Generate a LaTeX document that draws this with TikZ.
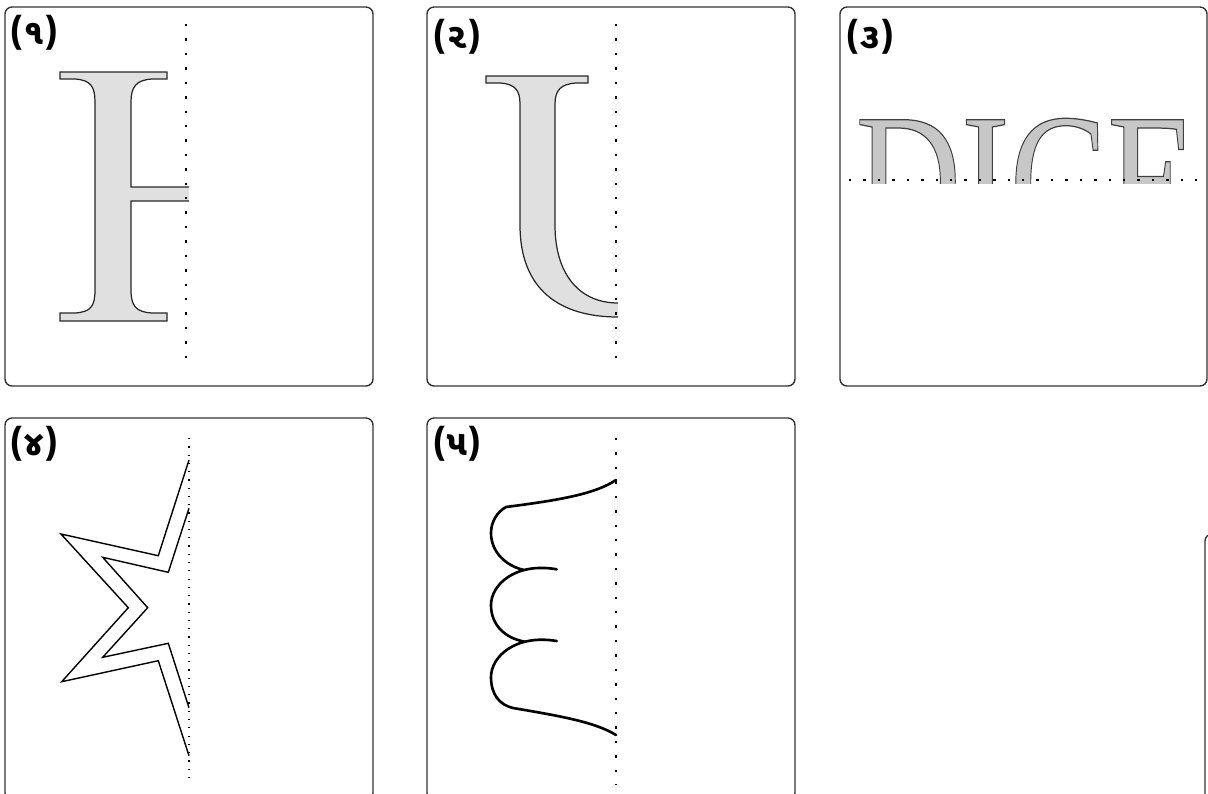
\documentclass[tikz,border=0pt]{standalone}
\usepackage{fontspec}
\newfontfamily\gujfont[Script=Gujarati]{Noto Sans Gujarati UI}
\newfontfamily\letterfont{Liberation Serif}
\tikzset{
  panel/.style={draw=black!80,line width=0.4pt,rounded corners=2pt},
  mirror/.style={line width=0.75pt,dash pattern=on 0.7pt off 3.4pt},
  finemirror/.style={line width=0.35pt,dash pattern=on 0.35pt off 2pt},
  num/.style={font=\gujfont\bfseries\fontsize{10}{12}\selectfont,anchor=north west,inner sep=0pt},
  glyph/.style={fill=black!12,draw=black!85,line width=0.35pt},
  curly/.style={line width=0.75pt,line cap=round,line join=round},
}
\begin{document}
\begin{tikzpicture}[x=0.01cm,y=-0.01cm]
\clip (0,0) rectangle (1208,793);
% --- frames ---
\draw[panel] (5,7) rectangle (373,386);
\draw[panel] (427,7) rectangle (795,386);
\draw[panel] (840,7) rectangle (1207,386);
\draw[panel] (5,418) rectangle (373,800);
\draw[panel] (427,418) rectangle (795,800);
\draw[panel] (1205,800) -- (1205,534) -- (1215,534);
% --- numbers ---
\node[num] (n1) at (9,15) {(૧)};
\node[num] (n2) at (432,19) {(૨)};
\node[num] (n3) at (845,19) {(૩)};
\node[num] (n4) at (9,426) {(૪)};
\node[num] (n5) at (432,426) {(૫)};
% --- panel 1: I with bar ---
\filldraw[glyph] (189,201) -- (131,201) -- (131,290)
  .. controls (131,306) and (136,312) .. (152,313) -- (167,313) -- (167,321)
  -- (60,321) -- (60,313) -- (75,313) .. controls (91,312) and (95,306) .. (95,290)
  -- (95,102) .. controls (95,87) and (91,80) .. (75,79) -- (60,79) -- (60,72)
  -- (167,72) -- (167,79) -- (152,79) .. controls (136,80) and (131,87) .. (131,102)
  -- (131,187) -- (189,187);
\draw[mirror] (186,24) -- (186,370);
% --- panel 2: J ---
\filldraw[glyph] (618,303) .. controls (580,303) and (555,275) .. (555,225)
  -- (555,104) .. controls (555,90) and (561,84) .. (576,83) -- (588,83) -- (588,76)
  -- (486,76) -- (486,83) -- (500,83) .. controls (515,84) and (520,90) .. (520,104)
  -- (520,225) .. controls (520,290) and (560,317) .. (618,317);
\draw[mirror] (616,24) -- (616,370);
% --- panel 3: DICE ---
\begin{scope}
\clip (845,100) rectangle (1205,183);
\node[anchor=base west,inner sep=0pt,xscale=0.77,text=black!22,
  font=\letterfont\fontsize{54}{60}\selectfont] (dice) at (855,244)
  {\special{pdf:literal direct 0.25 G 0.35 w 2 Tr}DICE\special{pdf:literal direct 0 Tr}};
\end{scope}
\draw[mirror] (849,180) -- (1197,180);
% --- panel 4: star ---
\draw[line width=0.4pt] (189,460) -- (158.3,555.7) -- (61,534) -- (128.3,607.7)
  -- (61.7,681.7) -- (158.3,660.7) -- (189,755.7);
\draw[line width=0.4pt] (189,508.3) -- (168.3,572.3) -- (102.7,557.3) -- (147.7,607.7)
  -- (102.7,657.3) -- (168.3,643.3) -- (189,707.7);
\draw[finemirror] (189,438) -- (189,783);
% --- panel 5: loops ---
\draw[curly] (616,480) .. controls (595,494) and (560,500) .. (506,507)
  .. controls (497,512) and (491,522) .. (491,533)
  .. controls (491,552) and (506,566) .. (524,570);
\draw[curly] (556.7,569.3) .. controls (515,562) and (491,585) .. (491,605)
  .. controls (491,625) and (505,638) .. (524,641.5);
\draw[curly] (556.7,641) .. controls (515,634) and (491,657) .. (491,677)
  .. controls (491,695) and (500,705) .. (513,708)
  .. controls (560,716) and (595,722) .. (616,735);
\draw[mirror] (616,438) -- (616,785);
\end{tikzpicture}
\end{document}
